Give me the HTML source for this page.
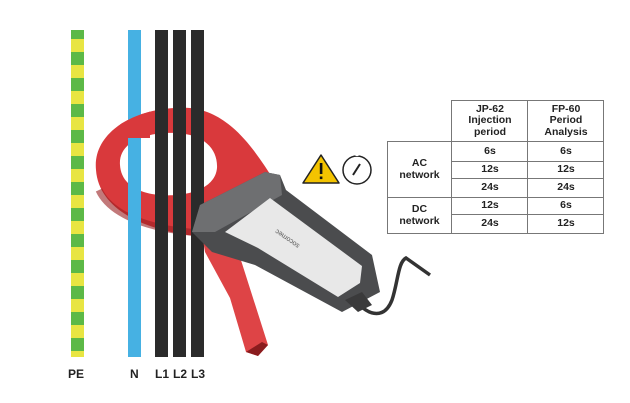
<!DOCTYPE html>
<html><head><meta charset="utf-8"><style>
body{margin:0;background:#fff;width:630px;height:403px;overflow:hidden;position:relative;font-family:"Liberation Sans",Arial,sans-serif}
svg{position:absolute;left:0;top:0}
.t{position:absolute;font-size:10.5px;font-weight:bold;color:#222;text-align:center;line-height:11.5px;display:flex;align-items:center;justify-content:center}
.lbl{position:absolute;top:367px;font-size:12px;font-weight:bold;color:#222}
</style></head><body>
<svg width="630" height="403">
<defs>
<pattern id="pe" width="14" height="26" patternUnits="userSpaceOnUse"><rect width="14" height="13" fill="#5cb947"/><rect y="13" width="14" height="13" fill="#e8e542"/></pattern>
<clipPath id="rc"><path id="ringp" fill-rule="evenodd" d="M96,170 C92,130 140,105 190,108 C230,112 255,150 275,182 L250,236 C190,243 100,226 96,170 Z M120,165 C118,140 150,132 175,133 C205,134 218,150 217,168 C215,190 185,197 160,195 C135,193 121,182 120,165 Z"/></clipPath>
</defs>
<!-- ring -->
<path fill-rule="evenodd" fill="#d9393c" d="M96,170 C92,130 140,105 190,108 C230,112 255,150 275,182 L250,236 C190,243 100,226 96,170 Z M120,165 C118,140 150,132 175,133 C205,134 218,150 217,168 C215,190 185,197 160,195 C135,193 121,182 120,165 Z"/>
<path fill="none" stroke="#9a2022" stroke-width="7" opacity="0.6" d="M99,190 C115,225 185,238 248,232"/>
<!-- wires -->
<rect x="71" y="30" width="13" height="327" fill="url(#pe)"/>
<rect x="128" y="30" width="13" height="327" fill="#46b1e3"/>
<rect x="155" y="30" width="13" height="327" fill="#2b2b2b"/>
<rect x="173" y="30" width="13" height="327" fill="#2b2b2b"/>
<rect x="191" y="30" width="13" height="327" fill="#2b2b2b"/>
<rect x="120" y="100" width="30" height="38" fill="#d9393c" clip-path="url(#rc)"/>
<!-- lower jaw -->
<path fill="#de4446" d="M200,222 L232,232 L268,345 L258,356 L246,352 L230,298 L205,252 Z"/>
<path fill="#8a1c1e" d="M246,352 L258,356 L268,345 L262,342 Z"/>
<!-- cable -->
<path fill="none" stroke="#333" stroke-width="3.5" d="M355,300 C370,318 385,318 392,300 C398,282 398,262 406,258 L430,275"/>
<!-- handle -->
<path fill="#4b4c4e" d="M192,232 L200,205 L265,172 L280,175 L286,190 L372,255 L380,292 L342,312 L255,265 L212,252 Z"/>
<path fill="#6e6f71" d="M192,232 L200,205 L265,172 L280,175 L282,195 L215,232 Z"/>
<path fill="#e8e8e8" d="M225,232 L270,198 L362,266 L360,283 L338,297 L258,248 Z"/>
<path fill="#3a3a3b" d="M345,300 L362,292 L372,305 L358,312 Z"/>
<text x="0" y="0" font-size="7" fill="#555" transform="translate(300,245) rotate(35) scale(-1,-1)">socomec</text>
<!-- icons -->
<path d="M321,155 L339,183 L303,183 Z" fill="#f3c300" stroke="#222" stroke-width="1.5" stroke-linejoin="round"/>
<rect x="319.8" y="163" width="2.6" height="11" fill="#111"/><rect x="319.8" y="176.5" width="2.6" height="2.6" fill="#111"/>
<circle cx="357" cy="170" r="14" fill="none" stroke="#222" stroke-width="1.5"/>
<path d="M357,156 l0,-2" stroke="#fff" stroke-width="3"/>
<path d="M353,175 L360,164" stroke="#222" stroke-width="2"/>
<!-- table -->
<g fill="none" stroke="#777" stroke-width="1">
<rect x="451.5" y="100.5" width="152" height="133"/>
<rect x="387.5" y="141.5" width="216" height="92"/>
<line x1="527.5" y1="100" x2="527.5" y2="234"/>
<line x1="451.5" y1="141" x2="451.5" y2="234"/>
<line x1="451" y1="161.5" x2="604" y2="161.5"/>
<line x1="451" y1="178.5" x2="604" y2="178.5"/>
<line x1="387" y1="197.5" x2="604" y2="197.5"/>
<line x1="451" y1="214.5" x2="604" y2="214.5"/>
</g>
</svg>
<div class="t" style="left:452px;top:101px;width:76px;height:40px">JP-62<br>Injection<br>period</div>
<div class="t" style="left:528px;top:101px;width:76px;height:40px">FP-60<br>Period<br>Analysis</div>
<div class="t" style="left:388px;top:142px;width:63px;height:55px">AC<br>network</div>
<div class="t" style="left:388px;top:198px;width:63px;height:35px">DC<br>network</div>
<div class="t" style="left:452px;top:142px;width:76px;height:19px">6s</div>
<div class="t" style="left:528px;top:142px;width:76px;height:19px">6s</div>
<div class="t" style="left:452px;top:162px;width:76px;height:16px">12s</div>
<div class="t" style="left:528px;top:162px;width:76px;height:16px">12s</div>
<div class="t" style="left:452px;top:179px;width:76px;height:18px">24s</div>
<div class="t" style="left:528px;top:179px;width:76px;height:18px">24s</div>
<div class="t" style="left:452px;top:198px;width:76px;height:16px">12s</div>
<div class="t" style="left:528px;top:198px;width:76px;height:16px">6s</div>
<div class="t" style="left:452px;top:215px;width:76px;height:18px">24s</div>
<div class="t" style="left:528px;top:215px;width:76px;height:18px">12s</div>
<div class="lbl" style="left:68px">PE</div>
<div class="lbl" style="left:130px">N</div>
<div class="lbl" style="left:155px">L1</div>
<div class="lbl" style="left:173px">L2</div>
<div class="lbl" style="left:191px">L3</div>
</body></html>
